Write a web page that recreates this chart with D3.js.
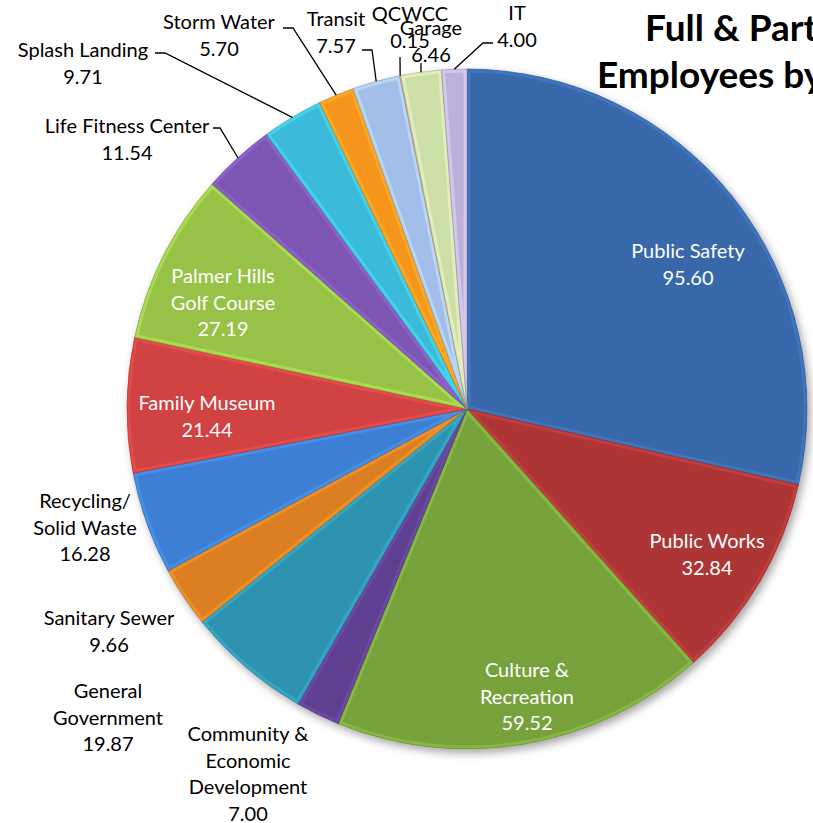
<!DOCTYPE html>
<html>
<head>
<meta charset="utf-8">
<script src="https://cdn.jsdelivr.net/npm/d3@7/dist/d3.min.js"></script>
<style>
  html, body { margin: 0; padding: 0; background: #ffffff; overflow: hidden; }
  svg { display: block; }
</style>
</head>
<body>
<svg id="chart" width="813" height="823"></svg>
<script>
// Full & part-time employees by department
const categories = [
  "Public Safety", "Public Works", "Culture & Recreation",
  "Community & Economic Development", "General Government", "Sanitary Sewer",
  "Recycling/Solid Waste", "Family Museum", "Palmer Hills Golf Course",
  "Life Fitness Center", "Splash Landing", "Storm Water", "Transit",
  "QCWCC", "Garage", "IT"
];
const values = [
  95.60, 32.84, 59.52, 7.00, 19.87, 9.66, 16.28, 21.44, 27.19,
  11.54, 9.71, 5.70, 7.57, 0.15, 6.46, 4.00
];
const colors = [
  "#3867a9", "#ad3535", "#77a23a", "#5e4190", "#2e93ae", "#dc7f24",
  "#3c7fd3", "#d14343", "#97c146", "#7d56b4", "#3bbbd9", "#f6951f",
  "#a3bee8", "#e3a3a2", "#cbdfa6", "#bcb1da"
];
const titleLines = ["Full & Part Time", "Employees by Department"];

// Label placement: centre of the first text line, words per line,
// text colour, and optional leader start/elbow points.
const labelLayout = {
  "Public Safety":                    { x: 688, y: 250, words: [2], fill: "#fff" },
  "Public Works":                     { x: 707, y: 540, words: [2], fill: "#fff" },
  "Culture & Recreation":             { x: 527, y: 669, words: [2, 1], fill: "#fff" },
  "Community & Economic Development": { x: 248, y: 733, words: [2, 1, 1], fill: "#000" },
  "General Government":               { x: 108, y: 690, words: [1, 1], fill: "#000" },
  "Sanitary Sewer":                   { x: 109, y: 617, words: [2], fill: "#000" },
  "Recycling/Solid Waste":            { x: 85,  y: 500, words: [1, 2], fill: "#000" },
  "Family Museum":                    { x: 207, y: 402, words: [2], fill: "#fff" },
  "Palmer Hills Golf Course":         { x: 223, y: 275, words: [2, 2], fill: "#fff" },
  "Life Fitness Center":              { x: 127, y: 125, words: [3], fill: "#000", leader: [[213, 128], [220, 128]] },
  "Splash Landing":                   { x: 83,  y: 49,  words: [2], fill: "#000", leader: [[155, 53], [165, 53]] },
  "Storm Water":                      { x: 219, y: 21,  words: [2], fill: "#000", leader: [[283, 28], [293, 28]] },
  "Transit":                          { x: 336, y: 18,  words: [1], fill: "#000", leader: [[362, 50], [372, 50]] },
  "QCWCC":                            { x: 410, y: 13,  words: [1], fill: "#000", leader: [[400, 57]] },
  "Garage":                           { x: 431, y: 27,  words: [1], fill: "#000", leader: [[421, 63]] },
  "IT":                               { x: 517, y: 12,  words: [1], fill: "#000", leader: [[493, 43], [483, 43]] }
};

const width = 813, height = 823;
const cx = 467, cy = 409, radius = 340;
const lineStep = 26.5;
const fontFamily = "Lato, 'Open Sans', sans-serif";

const svg = d3.select("#chart");
const defs = svg.append("defs");

const shadow = defs.append("filter").attr("id", "pieShadow")
  .attr("x", "-10%").attr("y", "-10%").attr("width", "120%").attr("height", "120%");
shadow.append("feDropShadow")
  .attr("dx", 3).attr("dy", 4).attr("stdDeviation", 4)
  .attr("flood-color", "#000").attr("flood-opacity", 0.35);

const data = categories.map((name, i) => ({ name, value: values[i], color: colors[i] }));

const pie = d3.pie().value(d => d.value).sort(null)
  .startAngle(0).endAngle(2 * Math.PI);
const arcs = pie(data);

const arc = d3.arc().innerRadius(0).outerRadius(radius);
const rimArc = d3.arc().innerRadius(radius).outerRadius(radius);

const pieG = svg.append("g")
  .attr("transform", `translate(${cx},${cy})`);

const body = pieG.append("g").attr("filter", "url(#pieShadow)");

// slice clip paths for the inner bevel band
arcs.forEach((d, i) => {
  defs.append("clipPath").attr("id", "slice-clip-" + i)
    .append("path").attr("d", arc(d));
});

const slices = body.selectAll("g.slice")
  .data(arcs)
  .join("g")
  .attr("class", "slice");

slices.append("path")
  .attr("d", arc)
  .attr("fill", d => d.data.color);

// light bevel rim inside each slice
slices.append("path")
  .attr("d", arc)
  .attr("fill", "none")
  .attr("clip-path", (d, i) => `url(#slice-clip-${i})`)
  .attr("stroke", d => d3.color(d.data.color).brighter(0.7))
  .attr("stroke-width", 7)
  .attr("stroke-opacity", 0.45)
  .attr("stroke-linejoin", "round");

// dark seam between slices
slices.append("path")
  .attr("d", arc)
  .attr("fill", "none")
  .attr("stroke", d => d3.color(d.data.color).darker(0.8))
  .attr("stroke-width", 0.8)
  .attr("stroke-opacity", 0.7);

// leader lines for labels placed outside the pie
const leaderG = svg.append("g");
arcs.forEach(d => {
  const lay = labelLayout[d.data.name];
  if (!lay.leader) return;
  const [px, py] = rimArc.centroid(d);
  const pts = lay.leader.concat([[cx + px, cy + py]]);
  leaderG.append("path")
    .attr("d", d3.line()(pts))
    .attr("fill", "none")
    .attr("stroke", "#000")
    .attr("stroke-width", 1.3);
});

// data labels: category name (wrapped) and value
const labelG = svg.append("g")
  .attr("font-family", fontFamily)
  .attr("font-size", 20)
  .attr("text-anchor", "middle");

arcs.forEach(d => {
  const lay = labelLayout[d.data.name];
  const tokens = d.data.name.match(/[^\s\/]+\/?/g);
  const lines = [];
  let k = 0;
  lay.words.forEach(n => {
    lines.push(tokens.slice(k, k + n).join(" "));
    k += n;
  });
  lines.push(d.data.value.toFixed(2));
  const t = labelG.append("text")
    .attr("fill", lay.fill)
    .attr("dominant-baseline", "central");
  lines.forEach((ln, j) => {
    t.append("tspan")
      .attr("x", lay.x)
      .attr("y", lay.y + j * lineStep)
      .text(ln);
  });
});

// chart title
const title = svg.append("text")
  .attr("font-family", fontFamily)
  .attr("font-weight", "bold")
  .attr("font-size", 37)
  .attr("fill", "#000");
title.append("tspan").attr("x", 645).attr("y", 41).text(titleLines[0]);
title.append("tspan").attr("x", 597).attr("y", 88).text(titleLines[1]);
</script>
</body>
</html>
